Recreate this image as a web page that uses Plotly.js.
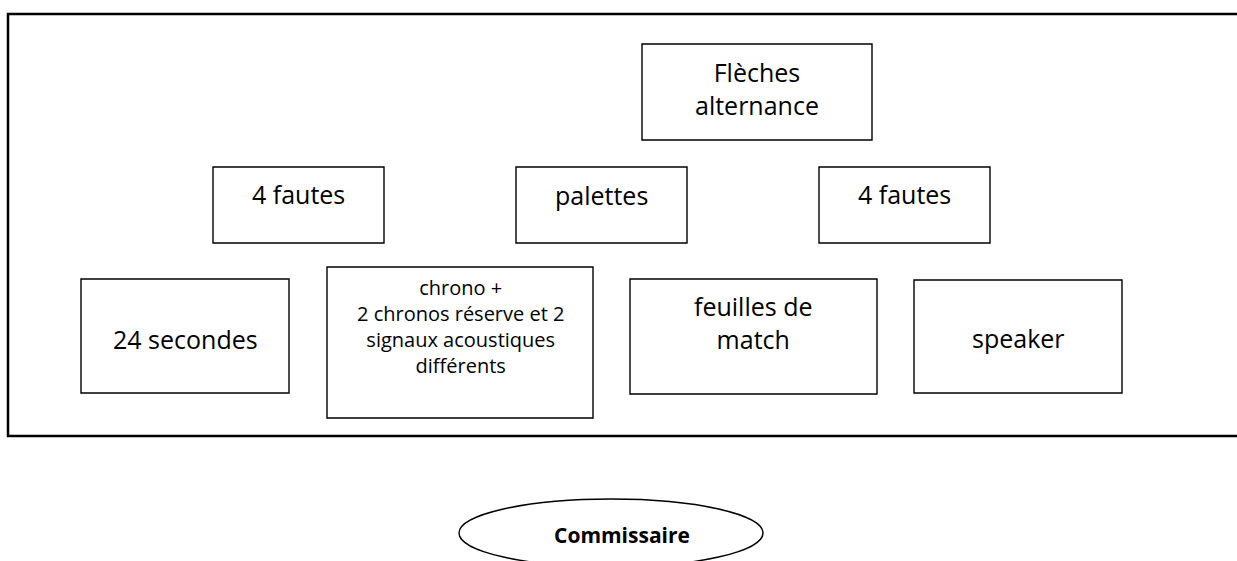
<!DOCTYPE html>
<html>
<head>
<meta charset="utf-8">
<script src="https://cdn.plot.ly/plotly-3.0.1.min.js"></script>
<style>html,body{margin:0;padding:0;background:#fff;}#chart{width:1237px;height:561px;}</style>
</head>
<body>
<div id="chart"></div>
<script>
// Diagram content
const boxLabels = [
  "Flèches<br>alternance",
  "4 fautes",
  "palettes",
  "4 fautes",
  "24 secondes",
  "chrono +<br>2 chronos réserve et 2<br>signaux acoustiques<br>différents",
  "feuilles de<br>match",
  "speaker"
];
// Box geometry (pixel-space layout)
const boxX0 = [642, 213, 516, 819, 81, 327, 630, 914];
const boxX1 = [872, 384, 687, 990, 289, 593, 877, 1122];
const boxY0 = [44, 167, 167, 167, 279, 267, 279, 280];
const boxY1 = [140, 243, 243, 243, 393, 418, 394, 393];
const labelX = [757, 298.5, 601.5, 904.5, 185, 460, 753.5, 1018];
const labelY = [88, 194, 195, 194, 339, 326.5, 322, 338];
const labelSize = [25, 25, 25, 25, 25, 20, 25, 25];

const frame = {x0: 8, y0: 14, x1: 1260, y1: 436};
const ovalLabel = "Commissaire";
const oval = {x0: 459, x1: 763, y0: 499, y1: 567, tx: 622, ty: 535};

const shapes = [];
shapes.push({type: "rect", xref: "x", yref: "y", x0: frame.x0, x1: frame.x1, y0: frame.y0, y1: frame.y1,
  line: {color: "#000", width: 2.5}, fillcolor: "rgba(0,0,0,0)"});
for (let i = 0; i < boxLabels.length; i++) {
  shapes.push({type: "rect", xref: "x", yref: "y", x0: boxX0[i], x1: boxX1[i], y0: boxY0[i], y1: boxY1[i],
    line: {color: "#000", width: 1.4}, fillcolor: "rgba(0,0,0,0)"});
}
shapes.push({type: "circle", xref: "x", yref: "y", x0: oval.x0, x1: oval.x1, y0: oval.y0, y1: oval.y1,
  line: {color: "#000", width: 1.4}, fillcolor: "rgba(0,0,0,0)"});

const annotations = boxLabels.map((t, i) => ({
  text: t, x: labelX[i], y: labelY[i], xref: "x", yref: "y",
  showarrow: false, xanchor: "center", yanchor: "middle", align: "center",
  font: {family: "Open Sans, sans-serif", size: labelSize[i], color: "#000"}
}));
annotations.push({text: "<b>" + ovalLabel + "</b>", x: oval.tx, y: oval.ty, xref: "x", yref: "y",
  showarrow: false, xanchor: "center", yanchor: "middle",
  font: {family: "Open Sans, sans-serif", size: 21, color: "#000"}});

const layout = {
  width: 1237, height: 561,
  margin: {l: 0, r: 0, t: 0, b: 0},
  paper_bgcolor: "#fff", plot_bgcolor: "#fff",
  xaxis: {range: [0, 1237], visible: false, fixedrange: true},
  yaxis: {range: [561, 0], visible: false, fixedrange: true},
  showlegend: false,
  shapes: shapes,
  annotations: annotations
};
Plotly.newPlot("chart", [{x: [], y: [], type: "scatter", mode: "markers", hoverinfo: "skip"}], layout,
  {displayModeBar: false, staticPlot: true});
</script>
</body>
</html>
